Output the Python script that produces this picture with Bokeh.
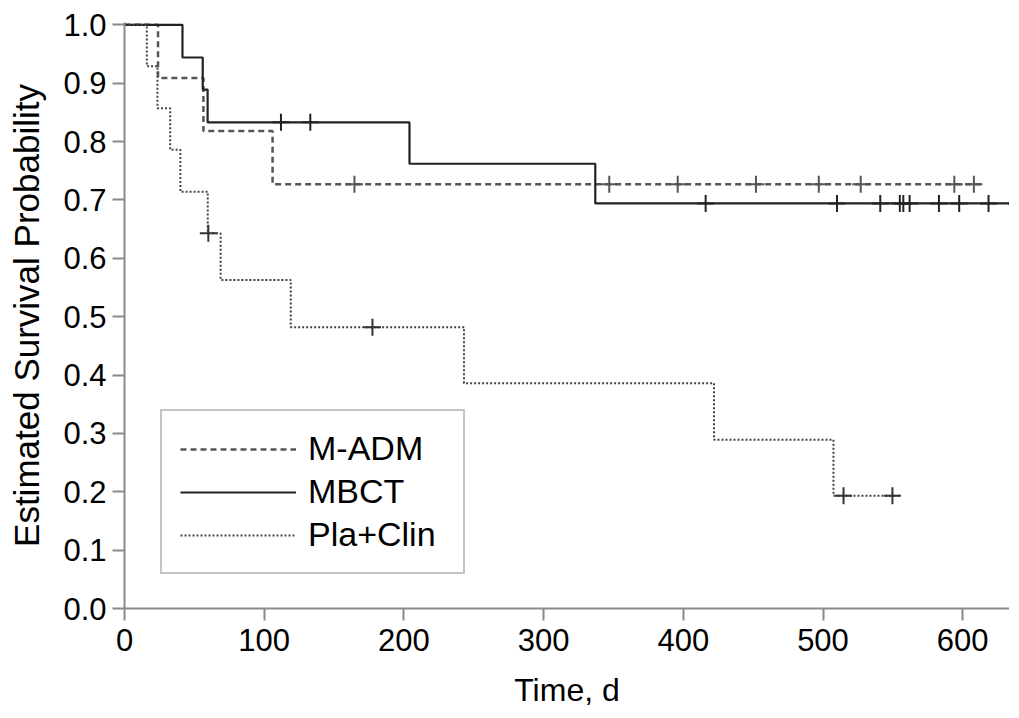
from bokeh.plotting import figure
from bokeh.models import Range1d, FixedTicker, Legend, LegendItem
from bokeh.embed import file_html
from bokeh.resources import INLINE

# ---- data ----
madm_t = [0, 24, 56.5, 106]
madm_s = [1.0, 0.909, 0.818, 0.727]
madm_end = 613
madm_cens_t = [164.6, 347, 396, 452, 497, 527, 594, 608]
madm_cens_s = [0.727, 0.727, 0.727, 0.727, 0.727, 0.727, 0.727, 0.727]

mbct_t = [0, 41.5, 56, 59.5, 204, 337]
mbct_s = [1.0, 0.944, 0.889, 0.833, 0.762, 0.694]
mbct_end = 638.5
mbct_cens_t = [112, 133, 416, 510, 541, 555, 557.5, 562, 583, 597.5, 618.5, 638.5]
mbct_cens_s = [0.833, 0.833, 0.694, 0.694, 0.694, 0.694, 0.694, 0.694, 0.694, 0.694, 0.694, 0.694]

pla_t = [0, 16, 23.6, 32.7, 40, 59.6, 68.8, 119, 243, 422, 507.5]
pla_s = [1.0, 0.929, 0.857, 0.786, 0.714, 0.643, 0.563, 0.482, 0.386, 0.289, 0.193]
pla_end = 555.5
pla_cens_t = [60, 177.5, 514.7, 549.7]
pla_cens_s = [0.643, 0.482, 0.193, 0.193]

x_ticks = [0, 100, 200, 300, 400, 500, 600]
y_ticks = [0.0, 0.1, 0.2, 0.3, 0.4, 0.5, 0.6, 0.7, 0.8, 0.9, 1.0]
y_tick_labels = ["0.0", "0.1", "0.2", "0.3", "0.4", "0.5", "0.6", "0.7", "0.8", "0.9", "1.0"]

series_names = ["M-ADM", "MBCT", "Pla+Clin"]

FONT = "Liberation Sans"

p = figure(frame_width=885, frame_height=586,
           x_range=Range1d(0, 633.5), y_range=Range1d(0, 1.004),
           output_backend="svg", toolbar_location=None,
           min_border_left=124, min_border_right=0,
           min_border_top=22, min_border_bottom=100)

p.outline_line_color = None
p.xgrid.visible = False
p.ygrid.visible = False
p.background_fill_color = "white"
p.border_fill_color = "white"


def stairs(t, s, end):
    return list(t) + [end], list(s) + [s[-1]]


mx, my = stairs(madm_t, madm_s, madm_end)
bx, by = stairs(mbct_t, mbct_s, mbct_end)
qx, qy = stairs(pla_t, pla_s, pla_end)

r_madm = p.step(mx, my, mode="after", line_color="#555555", line_width=2.5, line_dash="6 4")
r_mbct = p.step(bx, by, mode="after", line_color="#222222", line_width=2.2)
r_pla = p.step(qx, qy, mode="after", line_color="#444444", line_width=2, line_dash="2 2")

p.scatter(madm_cens_t, madm_cens_s, marker="cross", size=17, line_width=2, line_color="#555555")
p.scatter(mbct_cens_t, mbct_cens_s, marker="cross", size=17, line_width=2, line_color="#222222")
p.scatter(pla_cens_t, pla_cens_s, marker="cross", size=17, line_width=2, line_color="#333333")

for ax in (p.xaxis[0], p.yaxis[0]):
    ax.axis_line_color = "#8a8a8a"
    ax.axis_line_width = 2
    ax.major_tick_line_color = "#8a8a8a"
    ax.major_tick_line_width = 2
    ax.major_tick_out = 12
    ax.major_tick_in = 0
    ax.minor_tick_line_color = None
    ax.major_label_text_font = FONT
    ax.major_label_text_font_size = "31px"
    ax.major_label_text_color = "black"
    ax.axis_label_text_font = FONT
    ax.axis_label_text_font_style = "normal"
    ax.axis_label_text_color = "black"

p.xaxis.ticker = FixedTicker(ticks=x_ticks)
p.yaxis.ticker = FixedTicker(ticks=y_ticks)
p.yaxis.major_label_overrides = {v: s for v, s in zip(y_ticks, y_tick_labels)}
p.xaxis.major_label_standoff = 8
p.yaxis.major_label_standoff = 6

p.xaxis.axis_label = "Time, d"
p.xaxis.axis_label_text_font_size = "32px"
p.xaxis.axis_label_standoff = 18

p.yaxis.axis_label = "Estimated Survival Probability"
p.yaxis.axis_label_text_font_size = "35px"
p.yaxis.axis_label_standoff = 14

legend = Legend(items=[LegendItem(label=series_names[0], renderers=[r_madm]),
                       LegendItem(label=series_names[1], renderers=[r_mbct]),
                       LegendItem(label=series_names[2], renderers=[r_pla])],
                location=(36, 34))
legend.label_text_font = FONT
legend.label_text_font_size = "34px"
legend.label_text_color = "black"
legend.label_standoff = 12
legend.glyph_width = 116
legend.glyph_height = 30
legend.label_height = 30
legend.label_width = 137
legend.spacing = 4
legend.padding = 18
legend.margin = 0
legend.border_line_color = "#8a8a8a"
legend.border_line_width = 2
legend.background_fill_color = "white"
legend.background_fill_alpha = 1.0
p.add_layout(legend, "center")

open("out.html", "w").write(file_html(p, INLINE))
